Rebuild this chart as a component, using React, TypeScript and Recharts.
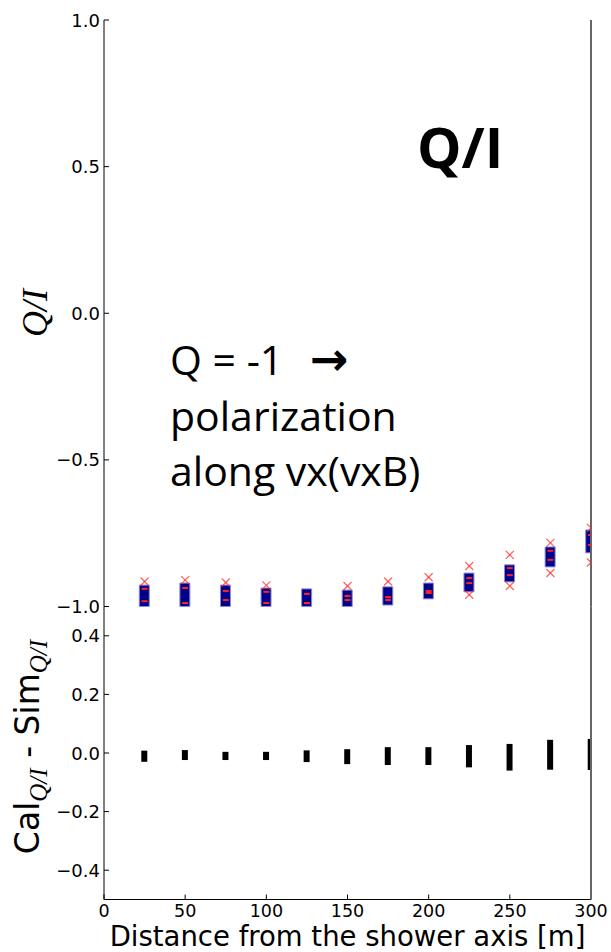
import React from "react";
import { ComposedChart, Bar, Scatter, XAxis, YAxis } from "recharts";

// distance of each antenna ring from the shower axis [m]
const distances = [25, 50, 75, 100, 125, 150, 175, 200, 225, 250, 275, 300];

// Q/I spread per ring (blue boxes)
const qiLow = [-1.0, -1.0, -1.0, -1.0, -1.0, -1.0, -0.995, -0.974, -0.95, -0.916, -0.865, -0.817];
const qiHigh = [-0.927, -0.92, -0.927, -0.937, -0.94, -0.944, -0.933, -0.92, -0.886, -0.858, -0.797, -0.739];

// red markers (simulation) poking out of the boxes
const crossTop = [-0.915, -0.91, -0.918, -0.928, null, -0.93, -0.915, -0.9, -0.862, -0.824, -0.783, -0.732];
const crossBottom = [null, null, null, null, null, null, null, null, -0.96, -0.93, -0.886, -0.85];
const stripeA = [-0.94, -0.937, -0.947, -0.95, -0.957, -0.964, -0.968, -0.947, -0.903, -0.869, -0.81, -0.756];
const stripeB = [-0.982, -0.988, -0.978, -0.988, -0.988, -0.978, -0.978, -0.954, -0.92, -0.893, -0.841, -0.79];

// Cal - Sim residual spread per ring
const diffHigh = [0.008, 0.01, 0.004, 0.004, 0.009, 0.013, 0.02, 0.02, 0.027, 0.031, 0.045, 0.048];
const diffLow = [-0.03, -0.024, -0.024, -0.024, -0.031, -0.038, -0.041, -0.041, -0.049, -0.06, -0.057, -0.058];

const xTicks = [0, 50, 100, 150, 200, 250, 300];
const qiTicks = [-1, -0.5, 0, 0.5, 1];
const diffTicks = [-0.4, -0.2, 0, 0.2, 0.4];

const qiRows = distances.map((x, i) => ({ x, range: [qiLow[i], qiHigh[i]] }));
const diffRows = distances.map((x, i) => ({ x, range: [diffLow[i], diffHigh[i]] }));
const pointsOf = (vals: (number | null)[]) =>
  distances.map((x, i) => ({ x, v: vals[i] })).filter((p) => p.v !== null);

const fmt = (v: number) => (v < 0 ? "\u2212" : "") + Math.abs(v).toFixed(1);
const gray = { stroke: "#666", strokeWidth: 2 };

const YTick = (props: any) => {
  const { x, y, payload } = props;
  return (
    <text x={x} y={y} dy={6.5} textAnchor="end" fontFamily="DejaVu Sans" fontSize={18} fill="#000">
      {fmt(payload.value)}
    </text>
  );
};

const XTick = (props: any) => {
  const { x, y, payload } = props;
  return (
    <text x={x} y={y} dy={12} textAnchor="middle" fontFamily="DejaVu Sans" fontSize={17.5} fill="#000">
      {payload.value}
    </text>
  );
};

const RedCross = (props: any) => {
  const { cx, cy } = props;
  if (cx == null || cy == null) return null;
  const r = 4;
  return (
    <g stroke="#ff3030" strokeOpacity={0.75} strokeWidth={1.3}>
      <line x1={cx - r} y1={cy - r} x2={cx + r} y2={cy + r} />
      <line x1={cx - r} y1={cy + r} x2={cx + r} y2={cy - r} />
    </g>
  );
};

const RedStripe = (props: any) => {
  const { cx, cy } = props;
  if (cx == null || cy == null) return null;
  return <line x1={cx - 3} y1={cy} x2={cx + 3} y2={cy} stroke="#ff2020" strokeWidth={2} />;
};

function QiPanel() {
  return (
    <ComposedChart width={611} height={952} data={qiRows} margin={{ top: 20, right: 0, bottom: 345.5, left: 0 }}>
      <XAxis dataKey="x" type="number" domain={[0, 300]} allowDataOverflow hide />
      <XAxis
        xAxisId="top"
        orientation="top"
        type="number"
        domain={[0, 300]}
        ticks={xTicks}
        interval={0}
        height={0}
        tick={false}
        tickSize={-5}
        axisLine={{ stroke: "#000" }}
        tickLine={{ stroke: "#000" }}
      />
      <YAxis
        type="number"
        domain={[-1, 1]}
        ticks={qiTicks}
        interval={0}
        width={104}
        tickSize={-5}
        tickMargin={9}
        tick={<YTick />}
        axisLine={{ stroke: "#000" }}
        tickLine={{ stroke: "#000" }}
      />
      <YAxis
        yAxisId="right"
        orientation="right"
        type="number"
        domain={[-1, 1]}
        ticks={qiTicks}
        interval={0}
        width={20}
        tick={false}
        tickSize={-5}
        axisLine={gray}
        tickLine={{ stroke: "#333" }}
      />
      <Bar dataKey="range" barSize={10} fill="#00008b" stroke="#8a8ad8" strokeWidth={1} isAnimationActive={false} />
      <Scatter data={pointsOf(stripeA)} dataKey="v" shape={<RedStripe />} isAnimationActive={false} />
      <Scatter data={pointsOf(stripeB)} dataKey="v" shape={<RedStripe />} isAnimationActive={false} />
      <Scatter data={pointsOf(crossTop)} dataKey="v" shape={<RedCross />} isAnimationActive={false} />
      <Scatter data={pointsOf(crossBottom)} dataKey="v" shape={<RedCross />} isAnimationActive={false} />
    </ComposedChart>
  );
}

function DiffPanel() {
  return (
    <ComposedChart width={611} height={952} data={diffRows} margin={{ top: 606.5, right: 0, bottom: 0, left: 0 }}>
      <XAxis
        dataKey="x"
        type="number"
        domain={[0, 300]}
        ticks={xTicks}
        interval={0}
        allowDataOverflow
        height={52.5}
        tickSize={-5}
        tickMargin={10}
        tick={<XTick />}
        axisLine={{ stroke: "#000" }}
        tickLine={{ stroke: "#000" }}
        label={{
          value: "Distance from the shower axis [m]",
          position: "insideBottom",
          offset: 6.5,
          fill: "#000",
          fontSize: 27.5,
          fontFamily: "DejaVu Sans",
        }}
      />
      <XAxis
        xAxisId="top"
        orientation="top"
        type="number"
        domain={[0, 300]}
        ticks={xTicks}
        interval={0}
        height={0}
        tick={false}
        tickSize={-5}
        axisLine={gray}
        tickLine={{ stroke: "#000" }}
      />
      <YAxis
        type="number"
        domain={[-0.5, 0.5]}
        ticks={diffTicks}
        interval={0}
        width={104}
        tickSize={-5}
        tickMargin={9}
        tick={<YTick />}
        axisLine={{ stroke: "#000" }}
        tickLine={{ stroke: "#000" }}
      />
      <YAxis
        yAxisId="right"
        orientation="right"
        type="number"
        domain={[-0.5, 0.5]}
        ticks={diffTicks}
        interval={0}
        width={20}
        tick={false}
        tickSize={-5}
        axisLine={gray}
        tickLine={{ stroke: "#333" }}
      />
      <Bar dataKey="range" barSize={6} fill="#000" isAnimationActive={false} />
    </ComposedChart>
  );
}

export default function App() {
  return (
    <div style={{ position: "absolute", left: 0, top: 0, width: 611, height: 952, background: "#fff" }}>
      <div style={{ position: "absolute", left: 0, top: 0 }}>
        <QiPanel />
      </div>
      <div style={{ position: "absolute", left: 0, top: 0 }}>
        <DiffPanel />
      </div>
      <svg width={611} height={952} style={{ position: "absolute", left: 0, top: 0, pointerEvents: "none" }}>
        <text x={417} y={168} fontFamily="Open Sans" fontWeight={700} fontSize={56} fill="#000">
          Q/I
        </text>
        <g fontFamily="Open Sans" fontSize={41} fill="#000">
          <text x={170} y={375}>
            Q = -1
            <tspan x={310} fontFamily="DejaVu Sans" fontWeight={700} fontSize={46}>
              →
            </tspan>
          </text>
          <text x={170} y={431}>polarization</text>
          <text x={170} y={486}>along vx(vxB)</text>
        </g>
        <text
          transform="translate(47,313) rotate(-90)"
          textAnchor="middle"
          fontFamily="Liberation Serif"
          fontStyle="italic"
          fontSize={36}
          fill="#000"
        >
          Q/I
        </text>
        <text transform="translate(39,747) rotate(-90)" textAnchor="middle" fontFamily="DejaVu Sans" fontSize={33} fill="#000">
          Cal
          <tspan dy={8} fontFamily="Liberation Serif" fontStyle="italic" fontSize={25}>
            Q/I
          </tspan>
          <tspan dy={-8}> - Sim</tspan>
          <tspan dy={8} fontFamily="Liberation Serif" fontStyle="italic" fontSize={25}>
            Q/I
          </tspan>
        </text>
      </svg>
    </div>
  );
}
